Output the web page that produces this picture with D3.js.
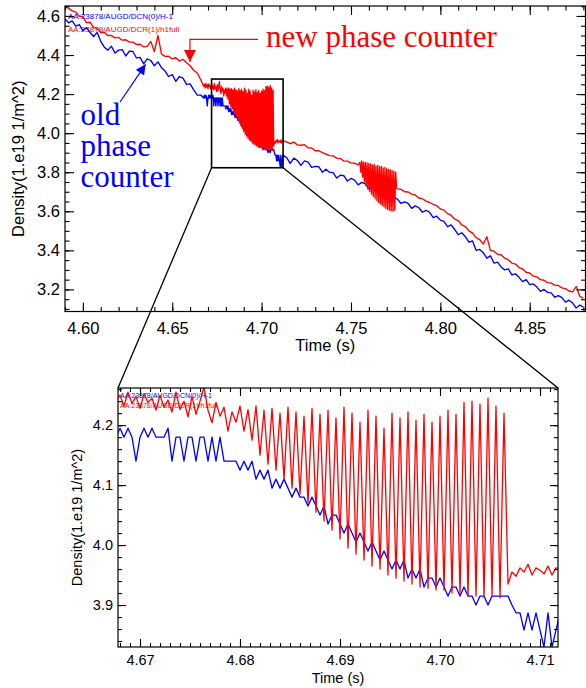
<!DOCTYPE html>
<html>
<head>
<meta charset="utf-8">
<script src="https://cdn.jsdelivr.net/npm/d3@7"></script>
<style>
  body { margin: 0; background: #fff; }
  svg { display: block; }
  text { font-family: "Liberation Sans", Arial, Helvetica, sans-serif; }
</style>
</head>
<body>
<div id="chart"></div>
<script>
// ---- data (density in 1e19 1/m^2, time in s) ----
// overview samples, one every 2 ms from 4.590 s; null where the finer arrays below take over
const coarseStart = 4.590, coarseStep = 0.002
const redCoarse = [
  4.645,4.640,4.626,4.620,4.598,4.597,4.566,4.568,4.540,4.536,
  4.515,4.516,4.500,4.500,4.488,4.490,4.476,4.478,4.466,4.466,
  4.454,4.455,4.442,4.444,4.470,4.418,4.500,4.405,4.393,4.394,
  4.380,4.386,4.370,4.378,4.360,4.345,4.322,4.308,4.272,
  null,null,null,null,null,null,null,null,null,null,null,null,null,null,null,null,null,null,null,null,null,null,null,
  3.955,3.946,3.954,3.940,3.938,3.941,3.925,3.924,3.910,3.910,
  3.900,3.893,3.885,3.884,3.872,3.870,3.858,3.857,3.848,3.846,3.838,
  null,null,null,null,null,null,null,null,null,null,
  3.715,3.712,3.700,3.699,3.688,3.684,3.668,3.664,3.652,3.645,
  3.636,3.628,3.612,3.606,3.588,3.580,3.560,3.552,3.530,3.522,
  3.500,3.488,3.465,3.455,3.432,3.470,3.400,3.396,3.380,3.377,
  3.360,3.352,3.335,3.330,3.312,3.305,3.288,3.284,3.268,3.264,
  3.250,3.247,3.235,3.232,3.222,3.220,3.208,3.204,3.192,3.187,
  3.215,3.165,3.155
]
const blueCoarse = [
  4.585,4.565,4.575,4.548,4.556,4.525,4.540,4.515,4.495,4.515,
  4.470,4.440,4.425,4.445,4.410,4.425,4.428,4.395,4.420,4.418,
  4.385,4.388,4.355,4.380,4.372,4.345,4.365,4.335,4.318,4.290,
  4.300,4.265,4.290,4.282,4.250,4.252,4.222,4.195,4.195,
  null,null,null,null,null,null,null,null,null,null,null,null,null,null,null,null,null,null,null,null,null,null,null,
  3.875,3.845,3.872,3.860,3.835,3.858,3.852,3.825,3.830,3.828,
  3.800,3.815,3.800,3.798,3.770,3.785,3.782,3.755,3.768,3.760,
  3.735,3.748,3.740,3.715,3.722,3.712,3.690,3.698,3.688,3.665,
  3.672,3.662,3.640,3.648,3.640,3.615,3.628,3.618,3.595,3.605,
  3.595,3.568,3.575,3.555,3.548,3.522,3.530,3.508,3.480,3.490,
  3.470,3.442,3.448,3.400,3.405,3.388,3.360,3.372,3.335,3.340,
  3.315,3.300,3.305,3.275,3.280,3.262,3.240,3.250,3.225,3.228,
  3.212,3.190,3.200,3.185,3.182,3.160,3.168,3.158,3.135,3.145,
  3.130,3.105,3.120,3.110
]

// zoomed window, one sample every 0.4 ms from 4.6676 s
const zoomStart = 4.6676, zoomStep = 0.0004
const redZoom = [
  4.240,4.250,4.232,4.255,4.236,4.248,4.228,4.252,4.238,4.245,
  4.225,4.250,4.230,4.242,4.222,4.255,4.226,4.240,4.214,4.248,
  4.218,4.240,4.264,4.225,4.204,4.238,4.215,4.230,4.190,4.222,
  4.205,4.232,4.190,4.226,4.175,4.232,4.150,4.225,4.135,4.228,
  4.125,4.220,4.110,4.230,4.095,4.222,4.085,4.215,4.070,4.228,
  4.055,4.218,4.040,4.225,4.025,4.212,4.010,4.230,3.995,4.220,
  3.985,4.205,3.975,4.225,3.965,4.215,3.960,4.195,3.950,4.220,
  3.945,4.212,3.940,4.222,3.935,4.208,3.930,4.218,3.928,4.205,
  3.925,4.215,3.925,4.225,3.920,4.218,3.918,4.238,3.915,4.240,
  3.915,4.235,3.912,4.245,3.915,4.232,3.912,4.220,3.935,3.955,
  3.948,3.962,3.955,3.968,3.950,3.962,3.958,3.952,3.965,3.950,
  3.962,3.960
]
const blueZoom = [
  4.180,4.195,4.180,4.195,4.180,4.140,4.180,4.195,4.180,4.195,
  4.180,4.180,4.180,4.195,4.140,4.180,4.180,4.140,4.180,4.180,
  4.140,4.180,4.180,4.140,4.180,4.140,4.180,4.140,4.140,4.140,
  4.140,4.125,4.140,4.125,4.140,4.110,4.125,4.110,4.125,4.095,
  4.110,4.095,4.110,4.095,4.080,4.095,4.080,4.080,4.065,4.080,
  4.065,4.050,4.065,4.035,4.050,4.050,4.035,4.020,4.035,4.020,
  4.005,4.020,4.005,3.990,4.005,3.990,3.975,3.990,3.975,3.960,
  3.975,3.960,3.975,3.945,3.960,3.945,3.960,3.930,3.945,3.945,
  3.930,3.945,3.930,3.915,3.930,3.930,3.915,3.930,3.915,3.915,
  3.900,3.915,3.915,3.900,3.915,3.915,3.915,3.915,3.915,3.900,
  3.887,3.887,3.858,3.887,3.858,3.887,3.858,3.830,3.887,3.830,
  3.858,3.887
]

// second burst of the new counter, one sample every 0.5 ms from 4.755 s
const burstStart = 4.755, burstStep = 0.0005
const redBurst = [
  3.850,3.800,3.858,3.775,3.852,3.750,3.850,3.730,3.848,3.712,
  3.845,3.700,3.842,3.688,3.838,3.676,3.840,3.665,3.832,3.655,
  3.835,3.645,3.828,3.638,3.830,3.630,3.822,3.622,3.825,3.615,
  3.818,3.610,3.815,3.605,3.812,3.602,3.808,3.600,3.805,3.605,
  3.800,3.720
]

const legendLabels = ["AA:23878/AUGD/DCN(0)/H-1", "AA:23878/AUGD/DCR(1)/h1full"]
const seriesColors = ["#0000ff", "#ff0000"]

const topXTicks = [4.60, 4.65, 4.70, 4.75, 4.80, 4.85]
const topYTicks = [3.2, 3.4, 3.6, 3.8, 4.0, 4.2, 4.4, 4.6]
const insetXTicks = [4.67, 4.68, 4.69, 4.70, 4.71]
const insetYTicks = [3.9, 4.0, 4.1, 4.2]

// region shown in the inset, as marked on the overview (t0, t1, d0, d1)
const zoomBox = [4.672, 4.712, 3.823, 4.277]

// annotations, placed in overview data units
const newArrow = [[4.698, 4.4805], [4.6599, 4.4805], [4.6599, 4.3643]]
const oldArrow = [[4.6208, 4.1595], [4.6351, 4.3525]]
const newText = {t: 4.7025, d: 4.441, text: "new phase counter"}
const oldText = {t: 4.5987, d: [4.0417, 3.8855, 3.7242], text: ["old", "phase", "counter"]}

// ---- helpers ----
const toPoints = (start, step, arr) => arr
  .map((v, i) => ({t: +(start + i * step).toFixed(5), d: v}))
  .filter(p => p.d != null)

const redTop = toPoints(coarseStart, coarseStep, redCoarse)
  .concat(toPoints(zoomStart, zoomStep, redZoom), toPoints(burstStart, burstStep, redBurst))
  .sort((a, b) => a.t - b.t)
const blueTop = toPoints(coarseStart, coarseStep, blueCoarse)
  .concat(toPoints(zoomStart, zoomStep, blueZoom))
  .sort((a, b) => a.t - b.t)
const redIns = toPoints(zoomStart, zoomStep, redZoom)
const blueIns = toPoints(zoomStart, zoomStep, blueZoom)

const rangeTicks = (a, b, s, dec) => d3.range(Math.round((b - a) / s) + 1).map(i => +(a + i * s).toFixed(dec))

const W = 586, H = 688
const svg = d3.select("#chart").append("svg").attr("width", W).attr("height", H)

const topX = d3.scaleLinear().domain([4.59, 4.8812]).range([65, 585.5])
const topY = d3.scaleLinear().domain([3.087, 4.651]).range([311.5, 6])
const insX = d3.scaleLinear().domain([4.6678, 4.7118]).range([118, 558])
const insY = d3.scaleLinear().domain([3.83, 4.262]).range([647, 388])

function frame(g, x, y, o) {
  const [x0, x1] = x.range(), [yb, yt] = y.range()
  const add = (axis, tr) => g.append("g").attr("transform", tr).call(axis)
    .call(s => s.select(".domain").remove())
  add(d3.axisBottom(x).tickValues(o.xMinor).tickSize(-o.minor).tickFormat(""), `translate(0,${yb})`)
  add(d3.axisTop(x).tickValues(o.xMinor).tickSize(-o.minor).tickFormat(""), `translate(0,${yt})`)
  add(d3.axisLeft(y).tickValues(o.yMinor).tickSize(-o.minor).tickFormat(""), `translate(${x0},0)`)
  add(d3.axisRight(y).tickValues(o.yMinor).tickSize(-o.minor).tickFormat(""), `translate(${x1},0)`)
  add(d3.axisBottom(x).tickValues(o.xMajor).tickSize(-o.major).tickPadding(o.xPad).tickFormat(d3.format(o.xFmt)), `translate(0,${yb})`)
  add(d3.axisTop(x).tickValues(o.xMajor).tickSize(-o.major).tickFormat(""), `translate(0,${yt})`)
  add(d3.axisLeft(y).tickValues(o.yMajor).tickSize(-o.major).tickPadding(o.yPad).tickFormat(d3.format(o.yFmt)), `translate(${x0},0)`)
  add(d3.axisRight(y).tickValues(o.yMajor).tickSize(-o.major).tickFormat(""), `translate(${x1},0)`)
  g.selectAll(".tick line").attr("stroke", "#000").attr("stroke-width", 1.1)
  g.selectAll("g").attr("font-size", null).attr("font-family", null)
  g.selectAll(".tick text").attr("fill", "#000").style("font-size", o.font + "px")
  g.append("rect").attr("x", x0).attr("y", yt).attr("width", x1 - x0).attr("height", yb - yt)
    .attr("fill", "none").attr("stroke", "#000").attr("stroke-width", 1.2)
  g.append("text").attr("x", (x0 + x1) / 2).attr("y", o.xTitleY).attr("text-anchor", "middle")
    .style("font-size", o.font + "px").text("Time (s)")
  g.append("text").attr("transform", `translate(${o.yTitleX},${(yb + yt) / 2}) rotate(-90)`)
    .attr("text-anchor", "middle").style("font-size", o.font + "px").text("Density(1.e19 1/m^2)")
}

function clipFor(id, x, y) {
  svg.append("clipPath").attr("id", id).append("rect")
    .attr("x", x.range()[0]).attr("y", y.range()[1])
    .attr("width", x.range()[1] - x.range()[0]).attr("height", y.range()[0] - y.range()[1])
}

function panel(x, y, blue, red, legend, clipId, lw) {
  clipFor(clipId, x, y)
  const g = svg.append("g")
  g.selectAll("text.leg").data(legendLabels).join("text").attr("class", "leg")
    .attr("x", legend.x).attr("y", (d, i) => legend.y + i * legend.dy)
    .attr("fill", (d, i) => seriesColors[i]).style("font-size", legend.size + "px").text(d => d)
  const line = d3.line().x(p => x(p.t)).y(p => y(p.d))
  const lines = g.append("g").attr("clip-path", `url(#${clipId})`)
  lines.append("path").datum(blue).attr("d", line).attr("fill", "none")
    .attr("stroke", seriesColors[0]).attr("stroke-width", lw).attr("stroke-linejoin", "round")
  lines.append("path").datum(red).attr("d", line).attr("fill", "none")
    .attr("stroke", seriesColors[1]).attr("stroke-width", lw).attr("stroke-linejoin", "round")
  return g
}

// ---- overview ----
panel(topX, topY, blueTop, redTop, {x: 68, y: 19, dy: 12.5, size: 8}, "clipTop", 1.35)
frame(svg.append("g"), topX, topY, {
  xMajor: topXTicks, xMinor: rangeTicks(4.59, 4.88, 0.01, 2),
  yMajor: topYTicks, yMinor: rangeTicks(3.1, 4.65, 0.05, 2),
  major: 9, minor: 4.5, xPad: 11, yPad: 5, xFmt: ".2f", yFmt: ".1f",
  font: 16.5, xTitleY: 351, yTitleX: 24
})

// ---- inset ----
panel(insX, insY, blueIns, redIns, {x: 120, y: 398, dy: 10, size: 7}, "clipIns", 1.3)
frame(svg.append("g"), insX, insY, {
  xMajor: insetXTicks, xMinor: rangeTicks(4.668, 4.711, 0.001, 3),
  yMajor: insetYTicks, yMinor: rangeTicks(3.84, 4.26, 0.02, 2),
  major: 8, minor: 4, xPad: 8, yPad: 5, xFmt: ".2f", yFmt: ".1f",
  font: 14.5, xTitleY: 683, yTitleX: 82
})

// ---- zoom box and connectors ----
const bx0 = topX(zoomBox[0]), bx1 = topX(zoomBox[1]), by0 = topY(zoomBox[3]), by1 = topY(zoomBox[2])
svg.append("rect").attr("x", bx0).attr("y", by0).attr("width", bx1 - bx0).attr("height", by1 - by0)
  .attr("fill", "none").attr("stroke", "#000").attr("stroke-width", 1.6)
svg.append("line").attr("x1", bx0).attr("y1", by1).attr("x2", insX.range()[0]).attr("y2", insY.range()[1])
  .attr("stroke", "#000").attr("stroke-width", 1.3)
svg.append("line").attr("x1", bx1).attr("y1", by1).attr("x2", insX.range()[1]).attr("y2", insY.range()[1])
  .attr("stroke", "#000").attr("stroke-width", 1.3)

// ---- annotations ----
const defs = svg.append("defs")
function head(id, color, len, wid) {
  defs.append("marker").attr("id", id).attr("markerUnits", "userSpaceOnUse")
    .attr("viewBox", "0 0 10 10").attr("refX", 10).attr("refY", 5)
    .attr("markerWidth", len).attr("markerHeight", wid).attr("orient", "auto")
    .append("path").attr("d", "M0,0L10,5L0,10z").attr("fill", color)
}
head("headRed", "#ff0000", 14, 12)
head("headBlue", "#0000ff", 13, 10)

const aLine = d3.line().x(p => topX(p[0])).y(p => topY(p[1]))
svg.append("path").attr("d", aLine(newArrow)).attr("fill", "none").attr("stroke", "#ff0000")
  .attr("stroke-width", 1.2).attr("marker-end", "url(#headRed)")
svg.append("path").attr("d", aLine(oldArrow)).attr("fill", "none").attr("stroke", "#0000ff")
  .attr("stroke-width", 1.2).attr("marker-end", "url(#headBlue)")

const serif = "'Liberation Serif', 'Times New Roman', serif"
svg.append("text").attr("x", topX(newText.t)).attr("y", topY(newText.d)).attr("fill", "#ff0000")
  .style("font-family", serif).style("font-size", "31px").text(newText.text)
svg.append("text").attr("fill", "#0000ff").style("font-family", serif).style("font-size", "31px")
  .selectAll("tspan").data(oldText.text).join("tspan")
  .attr("x", topX(oldText.t)).attr("y", (d, i) => topY(oldText.d[i])).text(d => d)
</script>
</body>
</html>
